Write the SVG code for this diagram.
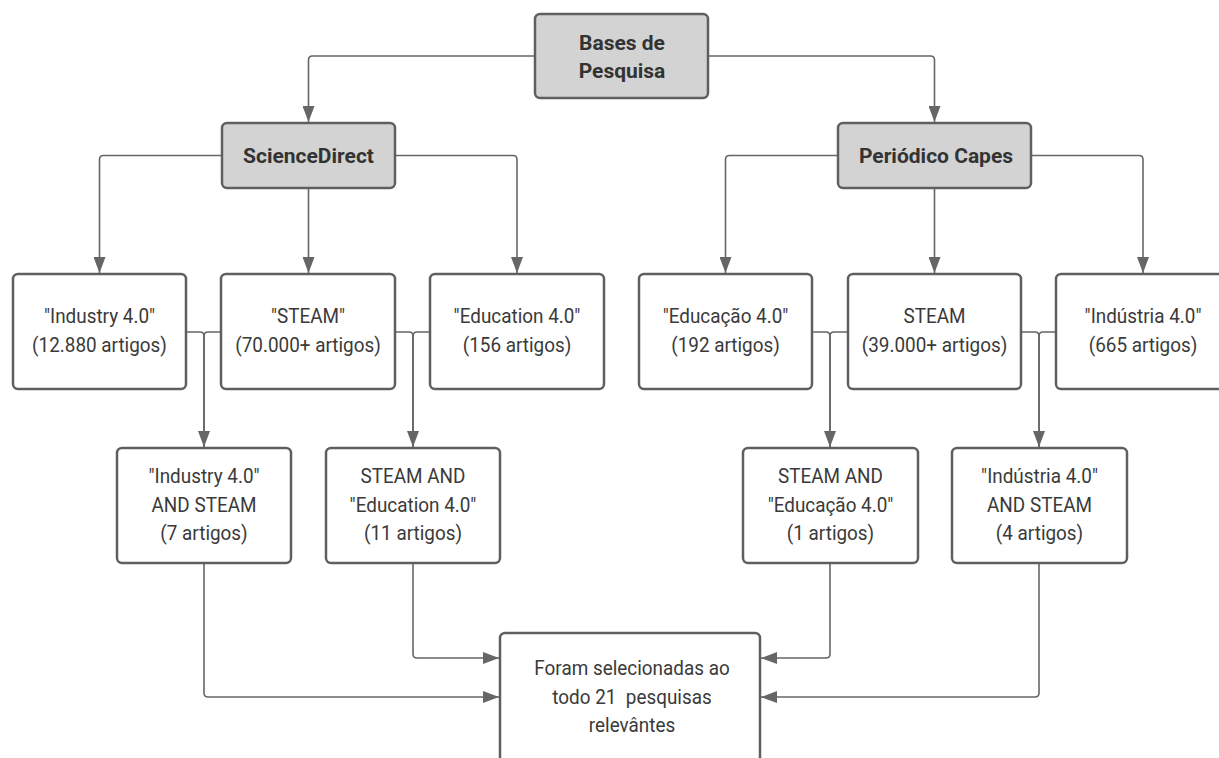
<svg xmlns="http://www.w3.org/2000/svg" width="1219" height="758" viewBox="0 0 1219 758">
<defs>
<marker id="arr" viewBox="0 0 16 12" refX="16" refY="6" markerWidth="16" markerHeight="12" markerUnits="userSpaceOnUse" orient="auto"><path d="M0,0 L16,6 L0,12 Z" fill="#666"/></marker>
<style>
.box{fill:#fff;stroke:#5f5f5f;stroke-width:2.5}
.gray{fill:#d3d3d3}
.c{fill:none;stroke:#666;stroke-width:1.6}
.a{marker-end:url(#arr)}
.t{font-family:Roboto,"Liberation Sans",sans-serif;font-size:21px;fill:#3a3a3a;text-anchor:middle;white-space:pre}
.b{font-weight:bold;fill:#333}
</style>
</defs>
<rect width="1219" height="758" fill="#fff"/>
<g id="connectors">
<path class="c a" d="M535,56 H312.5 Q308.5,56 308.5,60 V122"/>
<path class="c a" d="M708,56 H930.5 Q934.5,56 934.5,60 V122"/>
<path class="c a" d="M222,155.5 H103.5 Q99.5,155.5 99.5,159.5 V273"/>
<path class="c a" d="M308.5,188 V273"/>
<path class="c a" d="M395,155.5 H513 Q517,155.5 517,159.5 V273"/>
<path class="c a" d="M838,155.5 H729.5 Q725.5,155.5 725.5,159.5 V273"/>
<path class="c a" d="M934.5,188 V273"/>
<path class="c a" d="M1031,155.5 H1139 Q1143,155.5 1143,159.5 V273"/>
<path class="c a" d="M186,332 H200 Q204,332 204,336 V447"/>
<path class="c" d="M221,332 H208 Q204,332 204,336 V447"/>
<path class="c a" d="M395,332 H409 Q413,332 413,336 V447"/>
<path class="c" d="M430,332 H417 Q413,332 413,336 V447"/>
<path class="c a" d="M812,332 H826 Q830,332 830,336 V447"/>
<path class="c" d="M848,332 H834 Q830,332 830,336 V447"/>
<path class="c a" d="M1021,332 H1035 Q1039,332 1039,336 V447"/>
<path class="c" d="M1056,332 H1043 Q1039,332 1039,336 V447"/>
<path class="c a" d="M204,563 V693 Q204,697 208,697 H499"/>
<path class="c a" d="M413,563 V654 Q413,658 417,658 H499"/>
<path class="c a" d="M830,563 V654 Q830,658 826,658 H761"/>
<path class="c a" d="M1039,563 V693 Q1039,697 1035,697 H761"/>
</g>
<g id="n-bases">
<rect class="box gray" x="535" y="14" width="173" height="84" rx="5"/>
<text class="t b" x="622" y="50">Bases de</text>
<text class="t b" x="622" y="78">Pesquisa</text>
</g>
<g id="n-sciencedirect">
<rect class="box gray" x="222" y="123" width="173" height="65" rx="5"/>
<text class="t b" x="308.5" y="163">ScienceDirect</text>
</g>
<g id="n-capes">
<rect class="box gray" x="838" y="123" width="193" height="65" rx="5"/>
<text class="t b" x="936" y="163">Periódico Capes</text>
</g>
<g id="n-industry">
<rect class="box" x="13" y="274" width="173" height="115" rx="5"/>
<g transform="translate(99.5 0) scale(0.9 1)"><text class="t" x="0" y="323">"Industry 4.0"</text><text class="t" x="0" y="352">(12.880 artigos)</text></g>
</g>
<g id="n-steam-sd">
<rect class="box" x="221" y="274" width="174" height="115" rx="5"/>
<g transform="translate(308 0) scale(0.9 1)"><text class="t" x="0" y="323">"STEAM"</text><text class="t" x="0" y="352">(70.000+ artigos)</text></g>
</g>
<g id="n-education">
<rect class="box" x="430" y="274" width="174" height="115" rx="5"/>
<g transform="translate(517 0) scale(0.9 1)"><text class="t" x="0" y="323">"Education 4.0"</text><text class="t" x="0" y="352">(156 artigos)</text></g>
</g>
<g id="n-educacao">
<rect class="box" x="639" y="274" width="173" height="115" rx="5"/>
<g transform="translate(725.5 0) scale(0.9 1)"><text class="t" x="0" y="323">"Educação 4.0"</text><text class="t" x="0" y="352">(192 artigos)</text></g>
</g>
<g id="n-steam-capes">
<rect class="box" x="848" y="274" width="173" height="115" rx="5"/>
<g transform="translate(934.5 0) scale(0.9 1)"><text class="t" x="0" y="323">STEAM</text><text class="t" x="0" y="352">(39.000+ artigos)</text></g>
</g>
<g id="n-industria">
<rect class="box" x="1056" y="274" width="174" height="115" rx="5"/>
<g transform="translate(1143 0) scale(0.9 1)"><text class="t" x="0" y="323">"Indústria 4.0"</text><text class="t" x="0" y="352">(665 artigos)</text></g>
</g>
<g id="n-ind-steam">
<rect class="box" x="117" y="448" width="174" height="115" rx="5"/>
<g transform="translate(204 0) scale(0.9 1)"><text class="t" x="0" y="483">"Industry 4.0"</text><text class="t" x="0" y="512">AND STEAM</text><text class="t" x="0" y="540">(7 artigos)</text></g>
</g>
<g id="n-steam-edu">
<rect class="box" x="326" y="448" width="174" height="115" rx="5"/>
<g transform="translate(413 0) scale(0.9 1)"><text class="t" x="0" y="483">STEAM AND</text><text class="t" x="0" y="512">"Education 4.0"</text><text class="t" x="0" y="540">(11 artigos)</text></g>
</g>
<g id="n-steam-educacao">
<rect class="box" x="743" y="448" width="175" height="115" rx="5"/>
<g transform="translate(830.5 0) scale(0.9 1)"><text class="t" x="0" y="483">STEAM AND</text><text class="t" x="0" y="512">"Educação 4.0"</text><text class="t" x="0" y="540">(1 artigos)</text></g>
</g>
<g id="n-industria-steam">
<rect class="box" x="952" y="448" width="175" height="115" rx="5"/>
<g transform="translate(1039.5 0) scale(0.9 1)"><text class="t" x="0" y="483">"Indústria 4.0"</text><text class="t" x="0" y="512">AND STEAM</text><text class="t" x="0" y="540">(4 artigos)</text></g>
</g>
<g id="n-result">
<rect class="box" x="500" y="633" width="260" height="140" rx="5"/>
<g transform="translate(632 0) scale(0.9 1)"><text class="t" x="0" y="675" fill="#3a3a48">Foram selecionadas ao</text><text class="t" x="0" y="704">todo 21  pesquisas</text><text class="t" x="0" y="732">relevântes</text></g>
</g>
</svg>
